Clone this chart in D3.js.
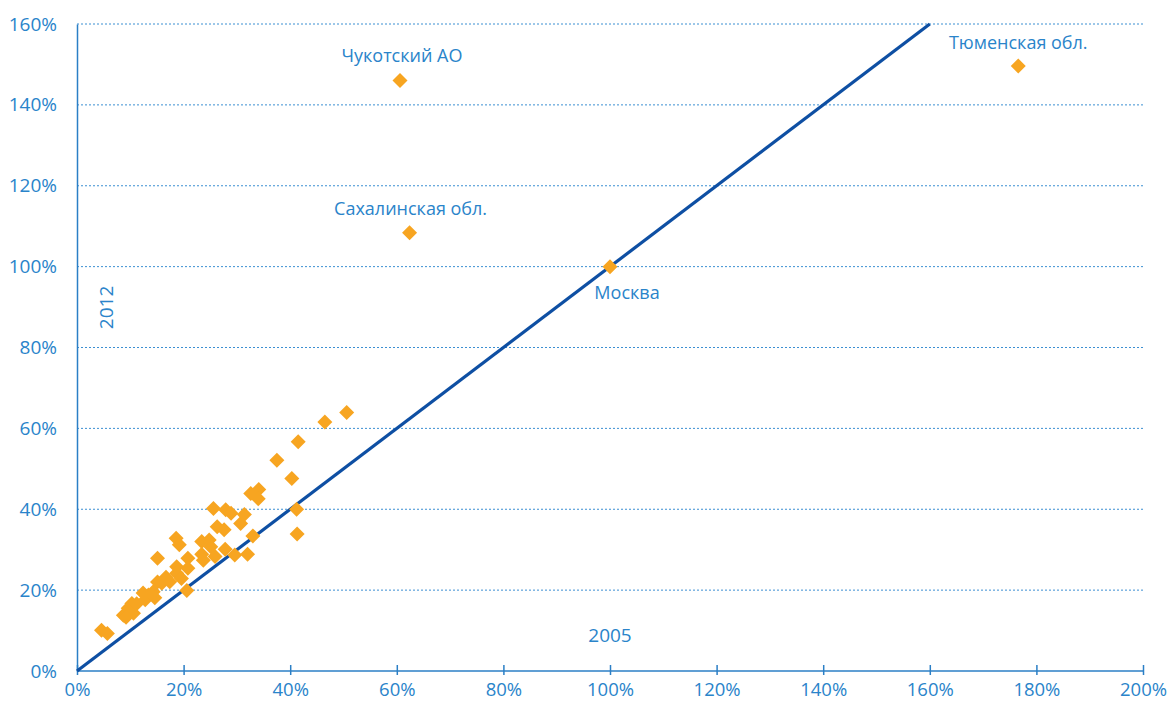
<!DOCTYPE html>
<html>
<head>
<meta charset="utf-8">
<script src="https://cdn.jsdelivr.net/npm/d3@7"></script>
<style>
  html, body { margin: 0; padding: 0; background: #fff; }
  svg { display: block; }
  text { font-family: "Open Sans", "Noto Sans", sans-serif; font-weight: 400; fill: #2a84ca; }
</style>
</head>
<body>
<svg id="chart" width="1171" height="702"></svg>
<script>
// Share in 2005 (x) vs 2012 (y), percent
const xValues = [4.6,5.7,8.7,9.6,10.3,10.6,11.2,9.2,12.4,12.8,13.4,14.3,14.6,15.1,15.9,16.7,17.4,15.1,18.7,18.7,19.6,18.6,19.2,20.6,20.8,20.8,23.4,24.8,25.1,23.4,23.7,25.9,25.6,26.3,27.6,27.9,28.9,27.8,29.6,30.7,31.4,32.0,32.6,34.1,34.0,33.0,37.5,40.3,41.2,41.3,41.5,46.5,50.6];
const yValues = [10.1,9.3,13.8,15.5,16.7,14.3,16.6,13.3,19.3,17.6,18.8,19.6,18.1,22.0,21.7,23.2,22.1,27.9,25.8,24.2,22.9,32.8,31.2,19.9,27.9,25.4,32.0,32.4,30.7,28.9,27.4,28.3,40.2,35.7,34.9,39.9,39.0,30.1,28.7,36.5,38.7,28.9,43.9,44.9,42.6,33.4,52.1,47.6,40.0,33.9,56.7,61.6,63.9];

const namedRegions = ["Чукотский АО", "Сахалинская обл.", "Москва", "Тюменская обл."];
const namedX = [60.6, 62.4, 100, 176.6];
const namedY = [146.0, 108.4, 100, 149.6];

const xTicks = [0,20,40,60,80,100,120,140,160,180,200];
const yTicks = [0,20,40,60,80,100,120,140,160];
const xAxisTitle = "2005";
const yAxisTitle = "2012";

const svg = d3.select("#chart");
const margin = {left: 77, right: 28, top: 24, bottom: 31};
const W = 1171, H = 702;
const x = d3.scaleLinear().domain([0, 200]).range([margin.left, W - margin.right]);
const y = d3.scaleLinear().domain([0, 160]).range([H - margin.bottom, margin.top]);

const axisColor = "#2b7fc6";

// gridlines
svg.append("g").selectAll("line").data(yTicks.filter(d => d > 0)).join("line")
  .attr("x1", x(0)).attr("x2", x(200))
  .attr("y1", d => y(d)).attr("y2", d => y(d))
  .attr("stroke", "#3b8fd2").attr("stroke-width", 1)
  .attr("stroke-dasharray", "2,2");

// y axis
const yAxis = svg.append("g").attr("transform", `translate(${x(0)},0)`)
  .call(d3.axisLeft(y).tickValues(yTicks).tickFormat(d => d + "%").tickSize(0).tickPadding(20));
yAxis.select(".domain").attr("stroke", axisColor).attr("stroke-width", 1.5);
yAxis.selectAll("text").style("font-size", "19px").attr("fill", "#2a84ca");

// x axis
const xAxis = svg.append("g").attr("transform", `translate(0,${y(0)})`)
  .call(d3.axisBottom(x).tickValues(xTicks).tickFormat(d => d + "%").tickSize(4).tickPadding(8));
xAxis.select(".domain").attr("stroke", axisColor).attr("stroke-width", 1.5).attr("d", `M${x(0)},0H${x(200)}`);
xAxis.selectAll(".tick line").attr("stroke", axisColor).attr("stroke-width", 1.5).attr("y1", -6).attr("y2", 4);
xAxis.selectAll("text").style("font-size", "18.5px").attr("fill", "#2a84ca");

// diagonal y = x line
svg.append("line")
  .attr("x1", x(0)).attr("y1", y(0)).attr("x2", x(160)).attr("y2", y(160))
  .attr("stroke", "#0e4fa3").attr("stroke-width", 3.2);

// points
const allX = xValues.concat(namedX), allY = yValues.concat(namedY);
const diamond = "M0,-7.5L7.5,0L0,7.5L-7.5,0Z";
svg.append("g").selectAll("path").data(allX.map((d, i) => [d, allY[i]])).join("path")
  .attr("d", diamond)
  .attr("transform", d => `translate(${x(d[0])},${y(d[1])})`)
  .attr("fill", "#f7a521");

// region labels
const labelDx = [2, 1, 17, 0];
const labelDy = [-19, -18, 32, -17];
svg.append("g").selectAll("text").data(namedRegions).join("text")
  .attr("x", (d, i) => x(namedX[i]) + labelDx[i])
  .attr("y", (d, i) => y(namedY[i]) + labelDy[i])
  .attr("text-anchor", "middle")
  .style("font-size", "18px")
  .text(d => d);

// axis titles
svg.append("text").attr("x", x(100)).attr("y", y(0) - 29)
  .attr("text-anchor", "middle").style("font-size", "19px").text(xAxisTitle);
svg.append("text").attr("transform", `translate(${x(0) + 36},${y(89.9)}) rotate(-90)`)
  .attr("text-anchor", "middle").style("font-size", "19px").text(yAxisTitle);
</script>
</body>
</html>
